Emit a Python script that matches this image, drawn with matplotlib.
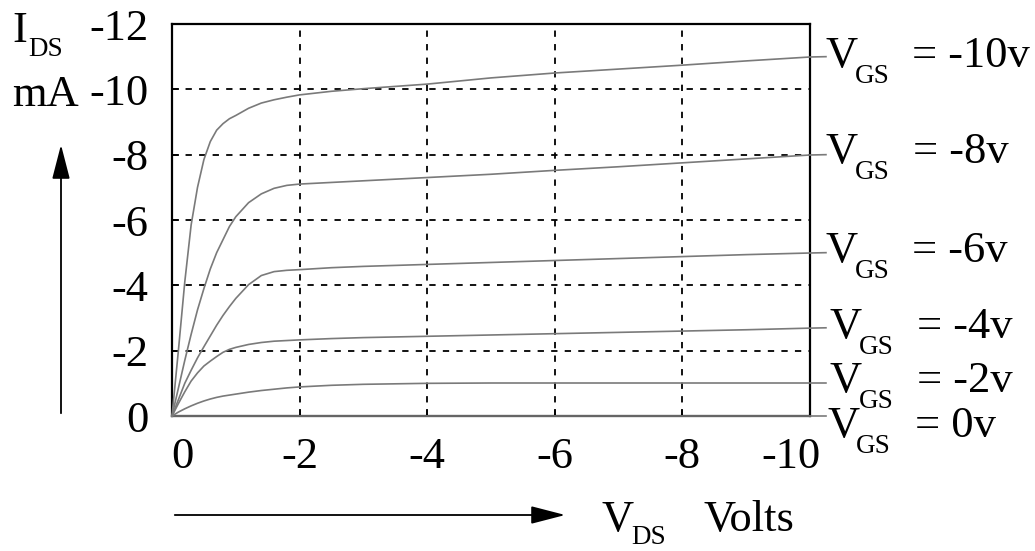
import matplotlib
matplotlib.use("Agg")
import matplotlib.pyplot as plt
import matplotlib.transforms as mtransforms

plt.rcParams['font.family'] = ['Liberation Serif', 'DejaVu Serif']

# drain-source voltage samples (Volts) shared by all curves
vds = [0, -0.1, -0.2, -0.3, -0.4, -0.5, -0.6, -0.7, -0.8, -0.9, -1.0, -1.2, -1.4,
       -1.6, -1.8, -2.0, -2.5, -3, -4, -5, -6, -7, -8, -9, -10, -10.25]

# drain current (mA) for each gate voltage
ids_m10 = [0, -2.0, -4.1, -5.85, -7.0, -7.85, -8.4, -8.75, -8.95, -9.1, -9.2, -9.42, -9.58,
           -9.68, -9.76, -9.83, -9.94, -10.02, -10.16, -10.35, -10.5, -10.62, -10.74, -10.87, -10.99, -11.0]
ids_m8 = [0, -0.85, -1.7, -2.5, -3.25, -3.9, -4.5, -5.0, -5.4, -5.8, -6.1, -6.53, -6.8,
          -6.97, -7.06, -7.1, -7.15, -7.2, -7.3, -7.4, -7.52, -7.63, -7.75, -7.87, -7.99, -8.0]
ids_m6 = [0, -0.5, -1.0, -1.4, -1.78, -2.12, -2.45, -2.78, -3.08, -3.35, -3.6, -4.02, -4.3,
          -4.42, -4.46, -4.48, -4.54, -4.58, -4.64, -4.7, -4.76, -4.82, -4.88, -4.94, -4.99, -5.0]
ids_m4 = [0, -0.38, -0.74, -1.07, -1.32, -1.53, -1.68, -1.82, -1.95, -2.04, -2.1, -2.19, -2.25,
          -2.29, -2.31, -2.33, -2.37, -2.4, -2.44, -2.48, -2.52, -2.56, -2.6, -2.64, -2.69, -2.7]
ids_m2 = [0, -0.12, -0.22, -0.31, -0.39, -0.46, -0.52, -0.57, -0.61, -0.64, -0.67, -0.73, -0.78,
          -0.82, -0.86, -0.89, -0.94, -0.97, -1.0, -1.01, -1.01, -1.01, -1.01, -1.01, -1.01, -1.01]
ids_0 = [0] * len(vds)

curves = [ids_m10, ids_m8, ids_m6, ids_m4, ids_m2, ids_0]
vgs_labels = ['= -10v', '= -8v', '= -6v', '= -4v', '= -2v', '= 0v']

x_ticks = [0, -2, -4, -6, -8, -10]
x_ticklabels = ['0', '-2', '-4', '-6', '-8', '-10']
y_ticks = [0, -2, -4, -6, -8, -10, -12]
y_ticklabels = ['0', '-2', '-4', '-6', '-8', '-10', '-12']

# label placement (pixels in the figure) for the V_GS tags
tag_v_x = [826, 826, 826, 830, 830, 827]
tag_v_base = [67, 163, 262, 338, 392, 437]
tag_eq_x = [912, 913, 912, 917, 917, 915]

W, H = 1035, 551
fig = plt.figure(figsize=(W / 100, H / 100), dpi=100)
ax = fig.add_axes([172 / W, 1 - 416 / H, (810 - 172) / W, (416 - 24) / H])

for ids in curves:
    ax.plot(vds, ids, color='#7a7a7a', lw=1.2, clip_on=False, zorder=3)

ax.set_xlim(0, -10)
ax.set_ylim(0, -12)
ax.set_xticks(x_ticks)
ax.set_xticklabels(x_ticklabels)
ax.set_yticks(y_ticks)
ax.set_yticklabels(y_ticklabels)
ax.tick_params(direction='in', length=5, width=1.2, labelsize=32, color='black')
ax.tick_params(axis='x', pad=15)
ax.tick_params(axis='y', pad=17)
ax.grid(True, color='black', lw=1.3, linestyle=(0, (3.5, 4)))
for s in ax.spines.values():
    s.set_linewidth(1.6)

# nudge the end labels on the x axis like the original
xl = ax.get_xticklabels()
xl[0].set_transform(xl[0].get_transform() + mtransforms.ScaledTranslation(0.10, 0, fig.dpi_scale_trans))
xl[-1].set_transform(xl[-1].get_transform() + mtransforms.ScaledTranslation(-0.19, 0, fig.dpi_scale_trans))


def fx(px):
    return px / W


def fy(py):
    return 1 - py / H


for lab, vx, vb, ex in zip(vgs_labels, tag_v_x, tag_v_base, tag_eq_x):
    fig.text(fx(vx), fy(vb), 'V', fontsize=32, va='baseline', ha='left')
    fig.text(fx(vx + 29), fy(vb + 16), 'GS', fontsize=19.5, va='baseline', ha='left')
    fig.text(fx(ex), fy(vb), lab, fontsize=32, va='baseline', ha='left')

arrow_style = '-|>,head_length=8.5,head_width=2.2'

# y axis caption and arrow
fig.text(fx(12), fy(42), 'I', fontsize=32, va='baseline')
fig.text(fx(28), fy(56), 'DS', fontsize=19.5, va='baseline')
fig.text(fx(12), fy(106), 'mA', fontsize=32, va='baseline')
fig.add_artist(matplotlib.patches.FancyArrowPatch((fx(61), fy(416)), (fx(61), fy(142)),
               transform=fig.transFigure, arrowstyle=arrow_style,
               color='black', lw=1.3, mutation_scale=2.5))

# x axis caption and arrow
fig.add_artist(matplotlib.patches.FancyArrowPatch((fx(172), fy(515)), (fx(568), fy(515)),
               transform=fig.transFigure, arrowstyle=arrow_style,
               color='black', lw=1.3, mutation_scale=2.5))
fig.text(fx(601), fy(531), 'V', fontsize=32, va='baseline')
fig.text(fx(631), fy(544), 'DS', fontsize=19.5, va='baseline')
fig.text(fx(704), fy(531), 'Volts', fontsize=32, va='baseline')

fig.savefig('out.png', dpi=100)
